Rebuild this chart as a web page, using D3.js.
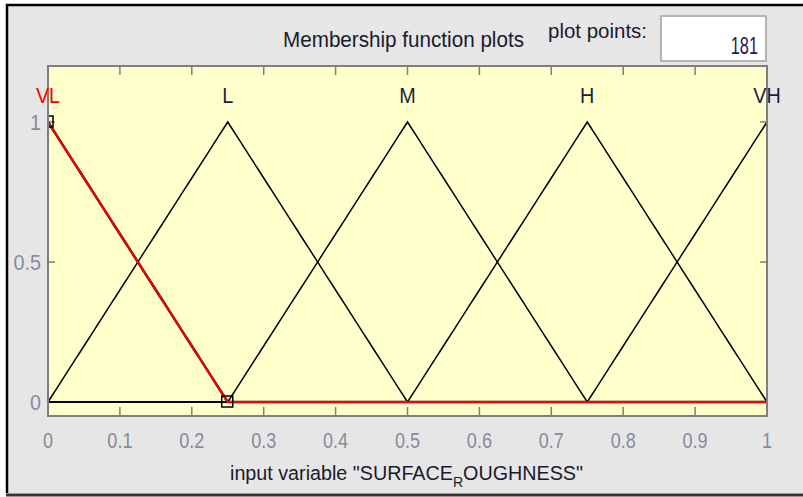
<!DOCTYPE html>
<html>
<head>
<meta charset="utf-8">
<script src="https://cdn.jsdelivr.net/npm/d3@7"></script>
<style>
  body { margin: 0; background: #fff; }
  text { font-family: "Liberation Sans", Arial, sans-serif; }
</style>
</head>
<body>
<div id="canvas"></div>
<script>
// membership functions (trimf params)
const mfNames = ["VL", "L", "M", "H", "VH"];
const mfParams = [
  [-0.25, 0, 0.25],
  [0, 0.25, 0.5],
  [0.25, 0.5, 0.75],
  [0.5, 0.75, 1],
  [0.75, 1, 1.25],
];
const selected = 0; // VL is highlighted
const plotPoints = 181;
const xRange = [0, 1];
const xTicks = [0, 0.1, 0.2, 0.3, 0.4, 0.5, 0.6, 0.7, 0.8, 0.9, 1];
const yTicks = [0, 0.5, 1];

const width = 803;
const height = 497;
const margin = { top: 66, bottom: 81, left: 48, right: 36 };

const svg = d3.select("#canvas").append("svg")
  .attr("width", width)
  .attr("height", height);

// squeezed text, the screenshot fonts are narrow
const label = (px, py, str, size, sx, anchor, color) =>
  svg.append("text")
    .attr("transform", `translate(${px},${py}) scale(${sx},1)`)
    .attr("text-anchor", anchor)
    .style("font-size", size + "px")
    .style("fill", color)
    .text(str);

// panel background + window borders
svg.append("rect").attr("x", 7).attr("y", 5).attr("width", width - 7).attr("height", 488).style("fill", "#e6e6e6");
svg.append("line").attr("x1", 7).attr("x2", 7).attr("y1", 4).attr("y2", 493).style("stroke", "#000").style("stroke-width", 2.5);
svg.append("line").attr("x1", 6).attr("x2", width).attr("y1", 5).attr("y2", 5).style("stroke", "#000").style("stroke-width", 2.5);
svg.append("line").attr("x1", 6).attr("x2", width).attr("y1", 495).attr("y2", 495).style("stroke", "#333").style("stroke-width", 3);

const x = d3.scaleLinear().domain(xRange).range([margin.left, width - margin.right]);
const y = d3.scaleLinear().domain([-0.05, 1.2]).range([height - margin.bottom, margin.top]);

// header
svg.append("text").attr("x", 283).attr("y", 47)
  .attr("textLength", 241).attr("lengthAdjust", "spacingAndGlyphs")
  .style("font-size", "22px").style("fill", "#1a1a2e")
  .text("Membership function plots");
svg.append("text").attr("x", 548).attr("y", 38)
  .attr("textLength", 99).attr("lengthAdjust", "spacingAndGlyphs")
  .style("font-size", "20px").style("fill", "#1a1a2e")
  .text("plot points:");
svg.append("rect").attr("x", 661).attr("y", 16).attr("width", 105).attr("height", 45)
  .style("fill", "#fff").style("stroke", "#b4b4b4").style("stroke-width", 2);
label(758, 54, plotPoints, 24, 0.68, "end", "#202050");

// axes area
const x0 = x.range()[0], x1 = x.range()[1];
const y0 = y.range()[0], y1 = y.range()[1];
svg.append("rect").attr("x", x0).attr("y", y1).attr("width", x1 - x0).attr("height", y0 - y1)
  .style("fill", "#ffffcc");

svg.append("defs").append("clipPath").attr("id", "clip")
  .append("rect").attr("x", x0).attr("y", y1).attr("width", x1 - x0).attr("height", y0 - y1);

// ticks (inside, top/bottom/left/right)
const tickStyle = (s) => s.style("stroke", "#7f7f7f").style("stroke-width", 1.5);
xTicks.forEach((t) => {
  tickStyle(svg.append("line").attr("x1", x(t)).attr("x2", x(t)).attr("y1", y0).attr("y2", y0 - 9));
  tickStyle(svg.append("line").attr("x1", x(t)).attr("x2", x(t)).attr("y1", y1).attr("y2", y1 + 9));
  label(x(t), 448, d3.format("~g")(t), 22, 0.82, "middle", "#8a8a9c");
});
yTicks.forEach((t) => {
  tickStyle(svg.append("line").attr("x1", x0).attr("x2", x0 + 7).attr("y1", y(t)).attr("y2", y(t)));
  tickStyle(svg.append("line").attr("x1", x1).attr("x2", x1 - 7).attr("y1", y(t)).attr("y2", y(t)));
  label(41, y(t) + 8, d3.format("~g")(t), 22, 0.9, "end", "#8a8a9c");
});

// membership curves
const trimf = (v, [a, b, c]) => Math.max(Math.min((v - a) / (b - a), (c - v) / (c - b)), 0);
const xs = d3.range(plotPoints).map((i) => xRange[0] + (xRange[1] - xRange[0]) * i / (plotPoints - 1));
const line = d3.line().x((d) => x(d[0])).y((d) => y(d[1]));

const curves = svg.append("g").attr("clip-path", "url(#clip)");
mfParams.forEach((p, i) => {
  curves.append("path").datum(xs.map((v) => [v, trimf(v, p)]))
    .attr("d", line).style("fill", "none").style("stroke", "#000").style("stroke-width", i === selected ? 2.5 : 1.5);
});
curves.append("path").datum(xs.map((v) => [v, trimf(v, mfParams[selected])]))
  .attr("d", line).style("fill", "none").style("stroke", "#ff0000").style("stroke-width", 2);

// selection handles at the corners of the highlighted MF
const handles = mfParams[selected].filter((v) => v >= xRange[0] && v <= xRange[1]);
curves.selectAll("rect.handle").data(handles).enter().append("rect")
  .attr("class", "handle")
  .attr("x", (d) => x(d) - 6)
  .attr("y", (d) => y(trimf(d, mfParams[selected])) - 6)
  .attr("width", 11).attr("height", 11)
  .style("fill", "none").style("stroke", "#000").style("stroke-width", 1.5);

// axes frame
svg.append("rect").attr("x", x0).attr("y", y1).attr("width", x1 - x0).attr("height", y0 - y1)
  .style("fill", "none").style("stroke", "#7f7f7f").style("stroke-width", 2);

// MF labels
mfNames.forEach((n, i) => {
  label(x(Math.min(Math.max(mfParams[i][1], 0), 1)), 103, n, 22, 0.9, "middle",
    i === selected ? "#ff0000" : "#1c1c40");
});

// x label with TeX-style subscript (underscore in the name)
const xl = svg.append("text")
  .attr("transform", "translate(230,480) scale(0.94,1)")
  .style("font-size", "21px").style("fill", "#1a1a2e");
xl.append("tspan").text('input variable "SURFACE');
xl.append("tspan").attr("dy", 7).style("font-size", "15px").text("R");
xl.append("tspan").attr("dy", -7).text('OUGHNESS"');
</script>
</body>
</html>
